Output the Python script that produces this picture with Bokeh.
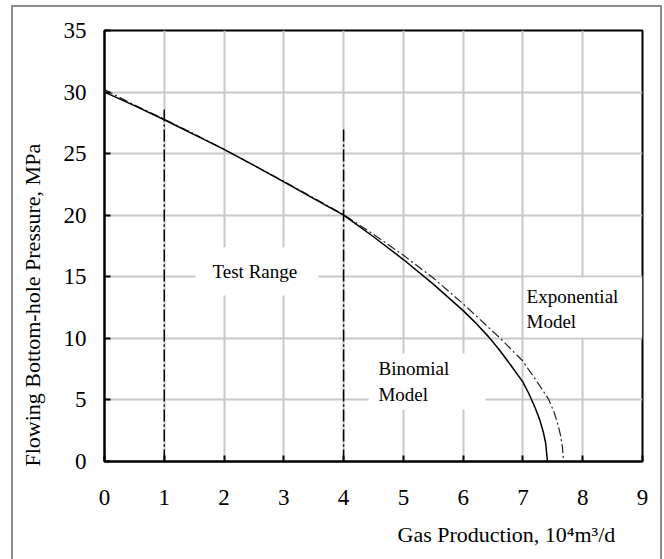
import math
from bokeh.plotting import figure
from bokeh.models import Range1d, Label, BoxAnnotation, FixedTicker, Title
from bokeh.embed import file_html
from bokeh.resources import INLINE

# ---- data ----
q_binomial = [0, 0.5, 1, 1.5, 2, 2.5, 3, 3.5, 4, 4.5, 5, 5.5, 6, 6.2, 6.43, 6.6, 6.8, 7.0, 7.1, 7.2, 7.28, 7.34, 7.38, 7.41]
p_binomial = [30.0, 28.9, 27.75, 26.55, 25.35, 24.05, 22.7, 21.35, 20.0, 18.25, 16.4, 14.4, 12.25, 11.3, 10.1, 9.1, 7.8, 6.45, 5.5, 4.4, 3.4, 2.4, 1.5, 0.0]

q_expo = [0, 0.5, 1, 1.5, 2, 2.5, 3, 3.5, 4, 4.5, 5, 5.5, 6, 6.6, 6.99, 7.24, 7.43, 7.52, 7.58, 7.63, 7.66, 7.68]
p_expo = [30.2, 28.95, 27.8, 26.6, 25.35, 24.05, 22.75, 21.4, 20.05, 18.45, 16.75, 14.9, 12.8, 10.1, 8.2, 6.45, 5.05, 4.0, 3.1, 2.1, 1.2, 0.0]

test_x = [1, 4]
test_top = [28.7, 27.2]

x_ticks = [0, 1, 2, 3, 4, 5, 6, 7, 8, 9]
y_ticks = [0, 5, 10, 15, 20, 25, 30, 35]

x_title = "Gas Production, 10\u2074m\u00b3/d"
y_title = "Flowing Bottom-hole Pressure, MPa"

FONT = "Liberation Serif"
BORDER = "#8c8c8c"

p = figure(width=664, height=559, output_backend="svg", toolbar_location=None,
           x_range=Range1d(0, 9), y_range=Range1d(0, 35),
           min_border_left=104, min_border_right=22, min_border_top=30, min_border_bottom=98)

p.background_fill_color = "white"
p.border_fill_color = "white"
p.border_fill_alpha = 0
p.outline_line_color = "black"
p.outline_line_width = 2
p.outline_line_alpha = 1

# thin grey picture frame drawn behind the (transparent) canvas border
grad = "linear-gradient(%s,%s)" % (BORDER, BORDER)
p.styles = {
    "background": "%s 11px 5px / 2px 600px no-repeat, %s 11px 5px / 651px 2px no-repeat, "
                  "%s 660px 5px / 2px 600px no-repeat, white" % (grad, grad, grad)
}

p.xaxis.ticker = FixedTicker(ticks=x_ticks)
p.yaxis.ticker = FixedTicker(ticks=y_ticks)
for ax in (p.xaxis, p.yaxis):
    ax.axis_line_color = "black"
    ax.axis_line_width = 2
    ax.major_tick_in = 6
    ax.major_tick_out = 0
    ax.major_tick_line_width = 2
    ax.major_tick_line_color = "black"
    ax.minor_tick_line_color = None
    ax.major_label_text_font = FONT
    ax.major_label_text_font_size = "23px"
    ax.major_label_text_color = "black"
p.xaxis.major_label_standoff = 28
p.yaxis.major_label_standoff = 18

p.grid.grid_line_color = "#c8c8c8"
p.grid.grid_line_width = 2

# white boxes behind annotations (hide the grid)
for l, r, b, t in [(1.52, 3.58, 13.48, 17.39), (4.42, 6.37, 4.22, 8.77), (7.04, 9.0, 10.07, 14.95)]:
    p.add_layout(BoxAnnotation(left=l, right=r, bottom=b, top=t, fill_color="white", fill_alpha=1,
                               line_alpha=0, level="underlay"))

# test range boundaries
p.segment(x0=test_x, y0=[0, 0], x1=test_x, y1=test_top, line_color="black", line_width=1.5,
          line_dash="12 3 2 3")

p.line(q_expo, p_expo, line_color="#222222", line_width=1.2, line_dash="9 3 2 3")
p.line(q_binomial, p_binomial, line_color="black", line_width=1.5)

def lab(x, y, text, size="19px"):
    p.add_layout(Label(x=x, y=y, text=text, text_font=FONT, text_font_size=size, text_color="black",
                       text_baseline="middle"))

lab(1.807, 15.43, "Test Range")
lab(4.583, 6.5, "Binomial\nModel")
lab(7.06, 12.39, "Exponential\nModel")

# axis titles as side-panel titles
p.add_layout(Title(text=x_title, align="left", offset=293, standoff=24, text_font=FONT,
                   text_font_size="22px", text_font_style="normal", text_color="black"), "below")
p.add_layout(Title(text=y_title, align="left", offset=-5, standoff=31, text_font=FONT,
                   text_font_size="22px", text_font_style="normal", text_color="black"), "left")

open("out.html", "w").write(file_html(p, INLINE))
